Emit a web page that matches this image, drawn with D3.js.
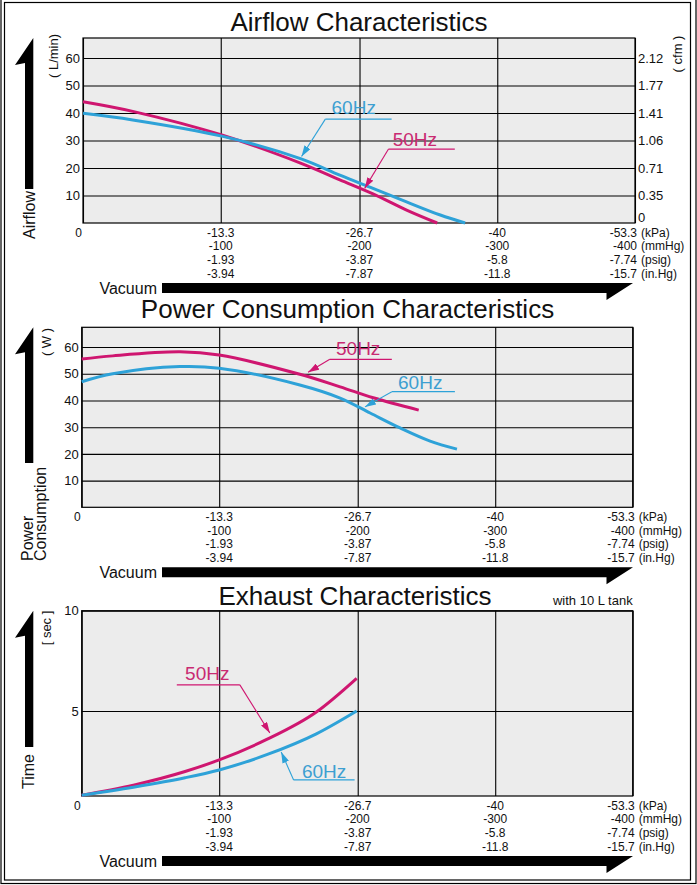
<!DOCTYPE html>
<html><head><meta charset="utf-8">
<script src="https://cdn.jsdelivr.net/npm/d3@7"></script>
<style>
body{margin:0;background:#fff;}
svg{display:block;font-family:"Liberation Sans",Arial,Helvetica,sans-serif;}
</style></head><body>
<svg id="c" width="697" height="885"></svg>
<script>
// ---------- data ----------
const gridKPa = [0, -13.3, -26.7, -40, -53.3];
const rowLabels = [
  ["-13.3", "-26.7", "-40", "-53.3"],
  ["-100", "-200", "-300", "-400"],
  ["-1.93", "-3.87", "-5.8", "-7.74"],
  ["-3.94", "-7.87", "-11.8", "-15.7"]
];
const rowUnits = ["(kPa)", "(mmHg)", "(psig)", "(in.Hg)"];

const airflowTicks = [10, 20, 30, 40, 50, 60];
const airflowCfmTicks = [0, 10, 20, 30, 40, 50, 60];
const cfmLabels = ["0", "0.35", "0.71", "1.06", "1.41", "1.77", "2.12"];
const airflowKPa50 = [0, -4.8, -13.4, -21.0, -24.8, -28.0, -31.3, -34.2];
const airflow50    = [44.1, 40.6, 32.0, 21.8, 15.7, 10.6, 4.6, 0];
const airflowKPa60 = [0, -4.8, -13.4, -21.0, -24.8, -28.0, -31.3, -34.5, -36.9];
const airflow60    = [39.9, 37.5, 31.6, 23.4, 17.4, 12.6, 7.6, 2.9, 0];

const powerTicks = [10, 20, 30, 40, 50, 60];
const powerKPa50 = [0, -3, -9.5, -13.3, -21.1, -25.0, -28.2, -32.6];
const power50    = [55.5, 56.7, 58.2, 57.0, 49.8, 45.1, 41.0, 36.4];
const powerKPa60 = [0, -3, -9.5, -13.3, -21.1, -25.0, -27.9, -30.8, -33.7, -36.3];
const power60    = [47.0, 50.0, 52.7, 52.1, 45.8, 40.9, 35.3, 29.7, 24.8, 21.8];

const exhaustTicks = [5, 10];
const exhaustKPa50 = [0, -5, -10, -13.3, -17.9, -22.7, -26.6];
const exhaust50    = [0.8, 1.3, 1.98, 2.56, 3.58, 4.95, 6.63];
const exhaustKPa60 = [0, -5, -10, -13.3, -17.9, -22.7, -26.6];
const exhaust60    = [0.8, 1.2, 1.67, 2.06, 2.82, 3.86, 5.0];

const col50 = "#cf1670", col60 = "#2ea2d8";
const txt50 = "#c92a72", txt60 = "#3d9fd1";

// ---------- drawing ----------
const svg = d3.select("#c");
const defs = svg.append("defs");
[["a50", col50], ["a60", col60]].forEach(([id, c]) => {
  defs.append("marker").attr("id", id).attr("markerUnits", "userSpaceOnUse")
    .attr("markerWidth", 11).attr("markerHeight", 7).attr("refX", 11).attr("refY", 3.5)
    .attr("orient", "auto")
    .append("path").attr("d", "M0,0 L11,3.5 L0,7 Z").attr("fill", c);
});

// frame
svg.append("rect").attr("x", 1).attr("y", -2).attr("width", 695).attr("height", 885.5)
  .attr("fill", "none").attr("stroke", "#000").attr("stroke-width", 1.2);
svg.append("rect").attr("x", 4.5).attr("y", 2.5).attr("width", 686).attr("height", 877.5)
  .attr("fill", "none").attr("stroke", "#000").attr("stroke-width", 1.2);

function chart(o) {
  const x = d3.scaleLinear().domain([0, -53.3]).range([o.l, o.r]);
  const y = d3.scaleLinear().domain(o.yDomain).range([o.b, o.t]);
  const g = svg.append("g");
  const W = o.r - o.l, H = o.b - o.t;

  g.append("rect").attr("x", o.l).attr("y", o.t).attr("width", W).attr("height", H).attr("fill", "#ececec");

  // vertical grid
  g.append("g").attr("transform", `translate(0,${o.b})`)
    .call(d3.axisBottom(x).tickValues(gridKPa).tickSize(-H).tickFormat(""))
    .call(s => s.select(".domain").remove())
    .call(s => s.selectAll("line").attr("stroke", "#000").attr("stroke-width", 1.1));

  // left axis + horizontal grid
  g.append("g").attr("transform", `translate(${o.l},0)`)
    .call(d3.axisLeft(y).tickValues(o.yTicks).tickSize(-W).tickPadding(3).tickFormat(d3.format("d")))
    .call(s => s.select(".domain").remove())
    .call(s => s.selectAll("line").attr("stroke", "#000").attr("stroke-width", 1.1))
    .call(s => s.selectAll("text").attr("font-size", 13).attr("fill", "#111")
      .attr("font-family", "Liberation Sans, Arial, sans-serif"));

  if (o.right) {
    g.append("g").attr("transform", `translate(${o.r},0)`)
      .call(d3.axisRight(y).tickValues(airflowCfmTicks).tickSize(0).tickPadding(3)
        .tickFormat((d, i) => cfmLabels[i]))
      .call(s => s.select(".domain").remove())
      .call(s => s.selectAll("text").attr("font-size", 13).attr("fill", "#111")
        .attr("font-family", "Liberation Sans, Arial, sans-serif")
        .attr("dy", d => d === 0 ? "-0.15em" : "0.32em"));
  }

  g.append("rect").attr("x", o.l).attr("y", o.t).attr("width", W).attr("height", H)
    .attr("fill", "none").attr("stroke", "#000").attr("stroke-width", 1.2);

  // curves
  const line = d3.line().x(d => x(d[0])).y(d => y(d[1])).curve(o.curve || d3.curveCatmullRom.alpha(0.5));
  o.series.forEach(s => {
    g.append("path").attr("d", line(d3.zip(s.kpa, s.val))).attr("fill", "none")
      .attr("stroke", s.color).attr("stroke-width", 3).attr("stroke-linecap", "butt");
  });

  // annotations
  o.notes.forEach(n => {
    g.append("text").attr("x", x(n.tx)).attr("y", y(n.ty)).text(n.text)
      .attr("font-size", 19).attr("fill", n.tcolor);
    g.append("line").attr("x1", x(n.u1)).attr("x2", x(n.u2)).attr("y1", y(n.uy)).attr("y2", y(n.uy))
      .attr("stroke", n.color).attr("stroke-width", 1.3);
    const sx = n.fromRight ? n.u2 : n.u1;
    g.append("line").attr("x1", x(sx)).attr("y1", y(n.uy)).attr("x2", x(n.px)).attr("y2", y(n.py))
      .attr("stroke", n.color).attr("stroke-width", 1.1).attr("marker-end", `url(#${n.marker})`);
  });

  // x labels
  const xl = g.append("g").attr("font-size", 12).attr("fill", "#111");
  xl.append("text").attr("x", x(0) - 1).attr("y", o.b + 13.5).attr("text-anchor", "end").text("0");
  rowLabels.forEach((row, i) => {
    const yy = o.b + 13.5 + i * 13.8;
    row.forEach((lab, j) => {
      const last = j === row.length - 1;
      xl.append("text").attr("x", x(gridKPa[j + 1]) + (last ? 2 : 0)).attr("y", yy)
        .attr("text-anchor", last ? "end" : "middle").text(lab);
    });
    xl.append("text").attr("x", o.r + 6).attr("y", yy).text(rowUnits[i]);
  });

  // title
  g.append("text").attr("x", o.titleX).attr("y", o.titleY).attr("text-anchor", "middle")
    .attr("font-size", 26).attr("fill", "#111").text(o.title);

  // vacuum arrow
  const ay = o.b + 60;
  g.append("path").attr("d", `M162,${ay} L633,${ay} L606.5,${ay + 17} L606.5,${ay + 10} L162,${ay + 10} Z`).attr("fill", "#000");
  g.append("text").attr("x", 157).attr("y", o.b + 71).attr("text-anchor", "end")
    .attr("font-size", 16).attr("fill", "#111").text("Vacuum");

  // vertical arrow
  const tipY = o.t, shaftB = o.shaftBottom;
  g.append("path").attr("d", `M33.3,${tipY} L15,${tipY + 27} L25,${tipY + 25} L25,${shaftB} L33.3,${shaftB} Z`).attr("fill", "#000");
  o.ylabel.forEach((t, i) => {
    const xx = o.ylabelX[i];
    g.append("text").attr("transform", `translate(${xx},${o.ylabelStart}) rotate(-90)`)
      .attr("font-size", 16).attr("fill", "#111").text(t);
  });
  g.append("text").attr("transform", `translate(${o.unitX},${o.unitY}) rotate(-90)`)
    .attr("text-anchor", "middle").attr("font-size", 13).attr("fill", "#111").text(o.unit);
  if (o.right) {
    g.append("text").attr("transform", `translate(682,${o.unitY - 2}) rotate(-90)`)
      .attr("text-anchor", "middle").attr("font-size", 13).attr("fill", "#111").text("( cfm )");
  }
  if (o.note) {
    g.append("text").attr("x", o.r).attr("y", o.titleY).attr("text-anchor", "end")
      .attr("font-size", 13).attr("fill", "#111").text(o.note);
  }
}

chart({
  l: 83, r: 635, t: 38, b: 223, yDomain: [0, 67.3], yTicks: airflowTicks, right: true,
  title: "Airflow Characteristics", titleX: 359, titleY: 30.5,
  shaftBottom: 189, ylabel: ["Airflow"], ylabelX: [35], ylabelStart: 239,
  unit: "( L/min)", unitX: 58, unitY: 56,
  series: [
    { kpa: airflowKPa50, val: airflow50, color: col50 },
    { kpa: airflowKPa60, val: airflow60, color: col60 }
  ],
  notes: [
    { text: "60Hz", tx: -24.0, ty: 39.6, u1: -23.4, u2: -29.8, uy: 37.8, px: -21.1, py: 24.2, color: col60, tcolor: txt60, marker: "a60" },
    { text: "50Hz", tx: -29.9, ty: 28.0, u1: -29.5, u2: -35.9, uy: 26.9, px: -27.2, py: 12.6, color: col50, tcolor: txt50, marker: "a50" }
  ]
});

chart({
  l: 81.7, r: 632.7, t: 327.3, b: 507.3, yDomain: [0, 67.4], yTicks: powerTicks,
  title: "Power Consumption Characteristics", titleX: 347.5, titleY: 318.3,
  shaftBottom: 463, ylabel: ["Power", "Consumption"], ylabelX: [33, 46], ylabelStart: 561,
  unit: "( W )", unitX: 51, unitY: 342,
  series: [
    { kpa: powerKPa50, val: power50, color: col50 },
    { kpa: powerKPa60, val: power60, color: col60 }
  ],
  notes: [
    { text: "50Hz", tx: -24.6, ty: 57.0, u1: -24.0, u2: -30.0, uy: 55.4, px: -21.9, py: 50.6, color: col50, tcolor: txt50, marker: "a50" },
    { text: "60Hz", tx: -30.6, ty: 44.2, u1: -30.0, u2: -36.1, uy: 43.3, px: -27.4, py: 37.6, color: col60, tcolor: txt60, marker: "a60" }
  ]
});

chart({
  l: 81.7, r: 632.7, t: 610.7, b: 796, yDomain: [0.76, 10], yTicks: exhaustTicks,
  curve: d3.curveMonotoneX,
  title: "Exhaust Characteristics", titleX: 355, titleY: 605, note: "with 10 L tank",
  shaftBottom: 747, ylabel: ["Time"], ylabelX: [34], ylabelStart: 789,
  unit: "[ sec ]", unitX: 51, unitY: 628,
  series: [
    { kpa: exhaustKPa50, val: exhaust50, color: col50 },
    { kpa: exhaustKPa60, val: exhaust60, color: col60 }
  ],
  notes: [
    { text: "50Hz", tx: -10.0, ty: 6.55, u1: -9.2, u2: -15.3, uy: 6.30, px: -18.2, py: 3.9, fromRight: true, color: col50, tcolor: txt50, marker: "a50" },
    { text: "60Hz", tx: -21.3, ty: 1.67, u1: -20.5, u2: -26.4, uy: 1.56, px: -19.3, py: 2.95, color: col60, tcolor: txt60, marker: "a60" }
  ]
});
</script>
</body></html>
